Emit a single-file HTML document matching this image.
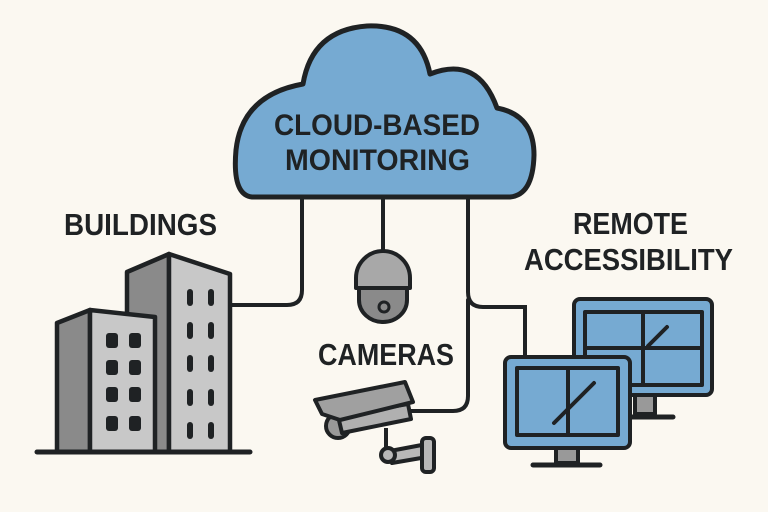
<!DOCTYPE html>
<html><head><meta charset="utf-8"><style>
html,body{margin:0;padding:0;background:#fbf8f1;}
svg{display:block}
text{font-family:"Liberation Sans","DejaVu Sans",sans-serif;font-weight:bold;fill:#1f2224}
</style></head><body>
<svg width="768" height="512" viewBox="0 0 768 512" xmlns="http://www.w3.org/2000/svg">
<rect width="768" height="512" fill="#fbf8f1"/>
<g fill="none" stroke="#1f2224" stroke-width="4" stroke-linecap="round">
<path d="M302 196 V290 Q302 305 287 305 H232"/>
<path d="M383 196 V252"/>
<path d="M468 196 V292 Q468 307 483 307 H525 V358"/>
<path d="M468 300 V396 Q468 411 453 411 H408"/>
</g>
<!-- cloud -->
<path d="M252 197 Q232 195 236 150 Q242 95 303 84 Q312 30 367 26 Q420 24 430 74 Q478 55 497 108 Q534 115 534 155 Q533 195 510 197 Z" fill="#76aad2" stroke="#1f2224" stroke-width="5" stroke-linejoin="round"/>
<text x="274" y="135" font-size="30" textLength="206" lengthAdjust="spacingAndGlyphs">CLOUD-BASED</text>
<text x="285" y="170" font-size="30" textLength="185" lengthAdjust="spacingAndGlyphs">MONITORING</text>
<!-- labels -->
<text x="64" y="235" font-size="31" textLength="153" lengthAdjust="spacingAndGlyphs">BUILDINGS</text>
<text x="318" y="365" font-size="31" textLength="136" lengthAdjust="spacingAndGlyphs">CAMERAS</text>
<text x="573" y="234" font-size="31" textLength="115" lengthAdjust="spacingAndGlyphs">REMOTE</text>
<text x="524" y="270" font-size="31" textLength="209" lengthAdjust="spacingAndGlyphs">ACCESSIBILITY</text>
<!-- buildings -->
<g stroke="#1f2224" stroke-width="4.5" stroke-linejoin="round">
<path d="M127 452 V272 L169 254 V452 Z" fill="#8a8a8a"/>
<path d="M169 254 L230 274 V452 H169 Z" fill="#c8c8c8"/>
<path d="M57 452 V323 L90 310 V452 Z" fill="#8a8a8a"/>
<path d="M90 310 L155 317 V452 H90 Z" fill="#c8c8c8"/>
</g>
<line x1="37" y1="452" x2="250" y2="452" stroke="#1f2224" stroke-width="5" stroke-linecap="round"/>
<g fill="#1f2224">
<rect x="187" y="289" width="6" height="17" rx="3"/><rect x="208" y="289" width="6" height="17" rx="3"/>
<rect x="187" y="322" width="6" height="17" rx="3"/><rect x="208" y="322" width="6" height="17" rx="3"/>
<rect x="187" y="355" width="6" height="17" rx="3"/><rect x="208" y="355" width="6" height="17" rx="3"/>
<rect x="187" y="389" width="6" height="17" rx="3"/><rect x="208" y="389" width="6" height="17" rx="3"/>
<rect x="187" y="422" width="6" height="17" rx="3"/><rect x="208" y="422" width="6" height="17" rx="3"/>
<rect x="106" y="333" width="12" height="15" rx="3"/><rect x="129" y="333" width="12" height="15" rx="3"/>
<rect x="106" y="360" width="12" height="15" rx="3"/><rect x="129" y="360" width="12" height="15" rx="3"/>
<rect x="106" y="387" width="12" height="15" rx="3"/><rect x="129" y="387" width="12" height="15" rx="3"/>
<rect x="106" y="416" width="12" height="15" rx="3"/><rect x="129" y="416" width="12" height="15" rx="3"/>
</g>
<!-- dome camera -->
<g stroke="#1f2224" stroke-width="4" stroke-linejoin="round">
<path d="M356 288 V278 A27 27 0 0 1 410 278 V288 Z" fill="#a8a8a8"/>
<path d="M359 288 H407 V300 A24 22 0 0 1 359 300 Z" fill="#8a8a8a"/>
<circle cx="384" cy="307" r="5" fill="#8a8a8a" stroke-width="3"/>
</g>
<!-- bullet camera -->
<g stroke="#1f2224" stroke-width="4" stroke-linejoin="round">
<line x1="386" y1="428" x2="386" y2="450" />
<path d="M390 451 L427 444 V457 L392 463 Z" fill="#b8b8b8"/>
<rect x="422" y="438" width="12" height="34" rx="4" fill="#b8b8b8"/>
<circle cx="388" cy="455" r="7" fill="#b8b8b8"/>
<circle cx="338" cy="426" r="12" fill="#999"/>
<path d="M338 416 L408 404 L411 419 L342 433 Z" fill="#b0b0b0"/>
<path d="M315 400 L405 382 L413 402 L340 420 L322 414 Z" fill="#a0a0a0"/>
</g>
<!-- monitors -->
<g stroke="#1f2224" stroke-width="4" stroke-linejoin="round">
<rect x="635" y="395" width="20" height="19" fill="#999"/>
<line x1="625" y1="417" x2="673" y2="417" stroke-width="5" stroke-linecap="round"/>
<rect x="574" y="299" width="138" height="96" rx="6" fill="#76aad2"/>
<rect x="585" y="312" width="117" height="73" fill="#76aad2"/>
<line x1="643" y1="312" x2="643" y2="385"/>
<line x1="585" y1="348" x2="702" y2="348"/>
<line x1="667" y1="327" x2="648" y2="346" stroke-linecap="round"/>
<rect x="556" y="447" width="22" height="16" fill="#999"/>
<line x1="533" y1="465" x2="600" y2="465" stroke-width="5" stroke-linecap="round"/>
<rect x="505" y="357" width="125" height="91" rx="6" fill="#76aad2"/>
<rect x="517" y="368" width="101" height="67" fill="#76aad2"/>
<line x1="568" y1="368" x2="568" y2="435"/>
<line x1="594" y1="383" x2="554" y2="423" stroke-linecap="round"/>
</g>
</svg>
</body></html>
